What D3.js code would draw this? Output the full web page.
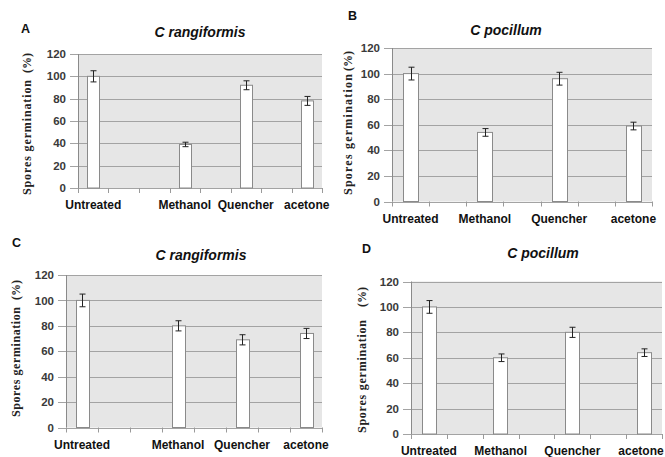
<!DOCTYPE html>
<html>
<head>
<meta charset="utf-8">
<script src="https://cdn.jsdelivr.net/npm/d3@7"></script>
<style>
  body { margin: 0; background: #fff; }
  svg { display: block; }
</style>
</head>
<body>
<div id="chart"></div>
<script>
// sheet categories (blank cells left as empty slots, like the original workbook)
const categoriesAC = ['Untreated', '', '', 'Methanol', '', 'Quencher', '', 'acetone'];
const categoriesBD = ['Untreated', '', 'Methanol', '', 'Quencher', '', 'acetone'];

const valuesA = [100, null, null, 39, null, 92, null, 78];
const errorsA = [5, null, null, 2, null, 4, null, 4];
const valuesB = [100, null, 54, null, 96, null, 59];
const errorsB = [5, null, 3, null, 5, null, 3];
const valuesC = [100, null, null, 80, null, 69, null, 74];
const errorsC = [5, null, null, 4, null, 4, null, 4];
const valuesD = [100, null, 60, null, 80, null, 64];
const errorsD = [5, null, 3, null, 4, null, 3];

const yTicks = [0, 20, 40, 60, 80, 100, 120];
const yLabelMain = 'Spores germination';
const yLabelUnit = '(%)';

const width = 665, height = 457;

const panels = [
  {letter: 'A', title: 'C rangiformis', categories: categoriesAC, values: valuesA, errors: errorsA,
   frame: {left: 78, right: 322, top: 54, bottom: 188}, letterAt: [21, 33], titleAt: [200, 37],
   yLab: {x: 27, bottom: 195, len: 115, unitBottom: 73}},
  {letter: 'B', title: 'C pocillum', categories: categoriesBD, values: valuesB, errors: errorsB,
   frame: {left: 392, right: 652, top: 48, bottom: 201.5}, letterAt: [348, 20], titleAt: [506, 35],
   yLab: {x: 348, bottom: 195, len: 121, unitBottom: 71}},
  {letter: 'C', title: 'C rangiformis', categories: categoriesAC, values: valuesC, errors: errorsC,
   frame: {left: 66, right: 322, top: 275, bottom: 427.5}, letterAt: [12, 247], titleAt: [201, 260],
   yLab: {x: 16, bottom: 417, len: 110, unitBottom: 300}},
  {letter: 'D', title: 'C pocillum', categories: categoriesBD, values: valuesD, errors: errorsD,
   frame: {left: 411, right: 662, top: 281.5, bottom: 434}, letterAt: [362, 253], titleAt: [543, 258],
   yLab: {x: 362, bottom: 433, len: 113, unitBottom: 307}}
];

const svg = d3.select('#chart')
  .append('svg')
  .attr('width', width)
  .attr('height', height);

const drawPanel = p => {
  const f = p.frame;
  const g = svg.append('g');

  const x = d3.scaleBand()
    .domain(d3.range(p.categories.length))
    .range([f.left, f.right])
    .paddingInner(0.6)
    .paddingOuter(0.3);
  const y = d3.scaleLinear().domain([0, 120]).range([f.bottom, f.top]);
  const step = x.step();
  const slotStart = i => x(i) - step * 0.3;

  g.append('rect')
    .attr('x', f.left)
    .attr('y', f.top)
    .attr('width', f.right - f.left)
    .attr('height', f.bottom - f.top)
    .attr('fill', '#e6e6e6');

  // gridlines + y ticks
  g.selectAll('.grid')
    .data(yTicks.filter(d => d > 0))
    .enter()
    .append('line')
    .attr('x1', f.left - 8)
    .attr('x2', f.right)
    .attr('y1', d => Math.round(y(d)) + 0.5)
    .attr('y2', d => Math.round(y(d)) + 0.5)
    .attr('stroke', '#a3a3a3');

  g.selectAll('.ylab')
    .data(yTicks)
    .enter()
    .append('text')
    .attr('x', f.left - 12)
    .attr('y', d => y(d))
    .attr('dy', '0.36em')
    .attr('text-anchor', 'end')
    .style('font', 'bold 11.5px "Liberation Sans", Arial, sans-serif')
    .attr('fill', '#3a3a3a')
    .text(d => d);

  // axes lines
  g.append('line')
    .attr('x1', f.left + 0.5).attr('x2', f.left + 0.5)
    .attr('y1', f.top).attr('y2', f.bottom)
    .attr('stroke', '#8a8a8a');
  g.append('line')
    .attr('x1', f.left - 8).attr('x2', f.right)
    .attr('y1', Math.round(f.bottom) + 0.5).attr('y2', Math.round(f.bottom) + 0.5)
    .attr('stroke', '#a3a3a3');

  g.selectAll('.xtick')
    .data(d3.range(p.categories.length + 1))
    .enter()
    .append('line')
    .attr('x1', i => Math.round(slotStart(0) + i * step) + 0.5)
    .attr('x2', i => Math.round(slotStart(0) + i * step) + 0.5)
    .attr('y1', f.bottom)
    .attr('y2', f.bottom + 5)
    .attr('stroke', '#9a9a9a');

  const idx = d3.range(p.values.length).filter(i => p.values[i] != null);

  g.selectAll('.bar')
    .data(idx)
    .enter()
    .append('rect')
    .attr('x', i => Math.round(x(i)) + 0.5)
    .attr('y', i => y(p.values[i]))
    .attr('width', Math.round(x.bandwidth()))
    .attr('height', i => f.bottom - y(p.values[i]))
    .attr('fill', '#fff')
    .attr('stroke', '#8a8a8a');

  const cx = i => Math.round(x(i) + x.bandwidth() / 2) + 0.5;
  const err = g.selectAll('.err').data(idx).enter().append('g')
    .attr('stroke', '#222').attr('stroke-width', 1);
  err.append('line')
    .attr('x1', cx).attr('x2', cx)
    .attr('y1', i => y(p.values[i] + p.errors[i]))
    .attr('y2', i => y(p.values[i] - p.errors[i]));
  err.append('line')
    .attr('x1', i => cx(i) - 3).attr('x2', i => cx(i) + 3)
    .attr('y1', i => y(p.values[i] + p.errors[i]))
    .attr('y2', i => y(p.values[i] + p.errors[i]));
  err.append('line')
    .attr('x1', i => cx(i) - 3).attr('x2', i => cx(i) + 3)
    .attr('y1', i => y(p.values[i] - p.errors[i]))
    .attr('y2', i => y(p.values[i] - p.errors[i]));

  // category labels (kept inside the page edge)
  g.selectAll('.cat')
    .data(d3.range(p.categories.length).filter(i => p.categories[i] !== ''))
    .enter()
    .append('text')
    .attr('x', i => x(i) + x.bandwidth() / 2)
    .attr('y', f.bottom + 21)
    .attr('text-anchor', 'middle')
    .style('font', 'bold 12px "Liberation Sans", Arial, sans-serif')
    .attr('fill', '#111')
    .text(i => p.categories[i])
    .each(function() {
      const b = this.getBBox();
      const over = b.x + b.width - (width - 1);
      if (over > 0) d3.select(this).attr('x', +d3.select(this).attr('x') - over);
    });

  // title and panel letter
  g.append('text')
    .attr('x', p.titleAt[0])
    .attr('y', p.titleAt[1])
    .attr('text-anchor', 'middle')
    .style('font', 'italic bold 14px "Liberation Sans", Arial, sans-serif')
    .attr('fill', '#111')
    .text(p.title);
  g.append('text')
    .attr('x', p.letterAt[0])
    .attr('y', p.letterAt[1])
    .style('font', 'bold 12.5px "Liberation Sans", Arial, sans-serif')
    .attr('fill', '#111')
    .text(p.letter);

  // rotated y label
  const yl = p.yLab;
  g.append('text')
    .attr('transform', `translate(${yl.x},${yl.bottom}) rotate(-90)`)
    .attr('dy', '0.32em')
    .attr('textLength', yl.len)
    .attr('lengthAdjust', 'spacing')
    .style('font', 'bold 12px "Liberation Serif", "Times New Roman", serif')
    .attr('fill', '#222')
    .text(yLabelMain);
  g.append('text')
    .attr('transform', `translate(${yl.x},${yl.unitBottom}) rotate(-90)`)
    .attr('dy', '0.32em')
    .style('font', 'bold 12px "Liberation Serif", "Times New Roman", serif')
    .attr('fill', '#222')
    .text(yLabelUnit);
};

panels.forEach(drawPanel);
</script>
</body>
</html>
